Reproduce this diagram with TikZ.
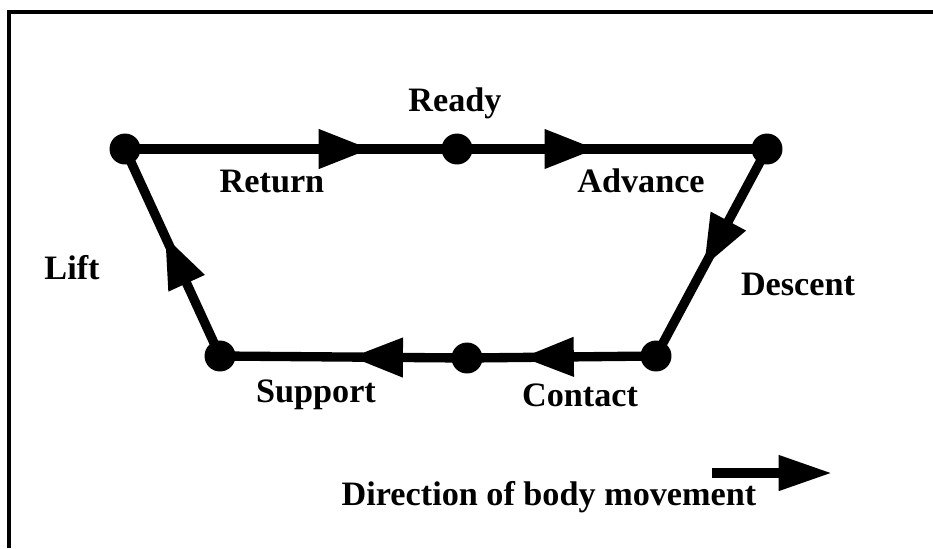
\documentclass[tikz,border=0pt]{standalone}
\usepackage{fontspec}
\setmainfont{Liberation Serif}
\usepackage{tikz}
\usetikzlibrary{arrows.meta, decorations.markings, calc}

\begin{document}
\begin{tikzpicture}[
        x=0.015cm, y=-0.015cm,
        phase/.style={draw, circle, fill=black, minimum size=0.45cm, inner sep=0pt},
        label/.style={font=\fontsize{14.6}{16}\selectfont\bfseries, inner sep=0pt},
        tip/.style={-{Triangle[length=0.8cm, width=0.5cm]}},
        edge/.style={line width=0.14cm, postaction={decorate},
          decoration={markings, mark=at position #1 with {\arrow{Triangle[length=0.78cm, width=0.56cm]}}}},
        frameline/.style={line width=0.06cm}
      ]
      \useasboundingbox (0,0) rectangle (933,548);

      % frame (left and top only)
      \draw[frameline] (9,548) -- (9,11.5) -- (933,11.5);

      % phase points
      \node[phase] (back) at (125,149) {};
      \node[phase] (ready) at (457,149) {};
      \node[phase] (front) at (767,149) {};
      \node[phase] (down) at (656,356) {};
      \node[phase] (contact) at (467,358) {};
      \node[phase] (rear) at (220,356) {};

      % edges
      \draw[edge=0.74] (back.center) -- (ready.center);
      \draw[edge=0.45] (ready.center) -- (front.center);
      \draw[edge=0.57] (front.center) -- (down.center);
      \draw[edge=0.71] (down.center) -- (contact.center);
      \draw[edge=0.47] (contact.center) -- (rear.center);
      \draw[edge=0.58] (rear.center) -- (back.center);

      % phase names
      \node[label] (readytxt) at (455,103) {Ready};
      \node[label] (returntxt) at (272,181) {Return};
      \node[label] (advancetxt) at (641,181) {Advance};
      \node[label] (lifttxt) at (72,268) {Lift};
      \node[label] (descenttxt) at (798,284) {Descent};
      \node[label] (supporttxt) at (316,395) {Support};
      \node[label] (contacttxt) at (580,395) {Contact};

      % body direction
      \node[label] (dirtxt) at (549,497) {Direction of body movement};
      \coordinate (dirfrom) at (712,473);
      \coordinate (dirto) at (832,473);
      \draw[tip, line width=0.14cm] (dirfrom) -- (dirto);

      \end{tikzpicture}
\end{document}
